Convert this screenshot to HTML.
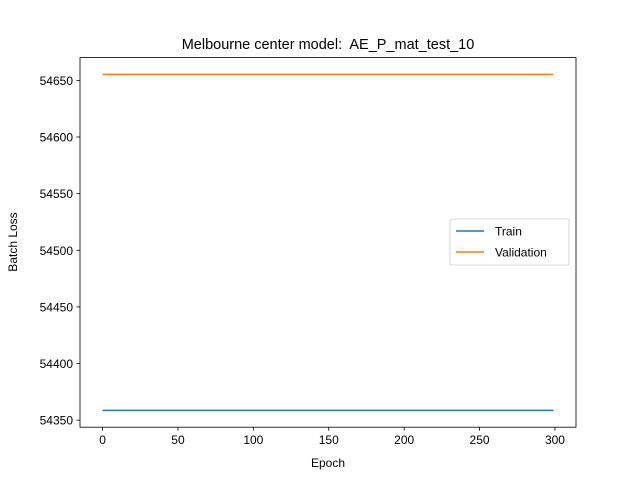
<!DOCTYPE html>
<html><head><meta charset="utf-8"><style>body{margin:0;background:#fff}svg{display:block;font-family:"Liberation Sans","DejaVu Sans",sans-serif}</style></head>
<body>
<svg id="chart" width="640" height="480">
<rect width="640" height="480" fill="#fff"/>
<text x="328" y="49" text-anchor="middle" font-size="14.5" style="white-space:pre" xml:space="preserve">Melbourne center model:  AE_P_mat_test_10</text>
<text x="328" y="467" text-anchor="middle" font-size="12">Epoch</text>
<text x="17" y="242" text-anchor="middle" font-size="12" transform="rotate(-90 17 242)">Batch Loss</text>
<g id="ticks"></g>
<g id="lines"></g>
<rect x="80" y="57.6" width="496" height="369.6" fill="none" stroke="#000" stroke-width="0.8"/>
<g>
<rect x="450" y="219" width="119" height="46" rx="2" fill="#fff" stroke="#ccc" stroke-width="0.8"/>
<line x1="456" y1="231" x2="484" y2="231" stroke="#1f77b4" stroke-width="1.5"/>
<text x="495" y="235.5" font-size="12">Train</text>
<line x1="456" y1="252" x2="484" y2="252" stroke="#ff7f0e" stroke-width="1.5"/>
<text x="495" y="256.5" font-size="12">Validation</text>
</g>
</svg>
<script>
const epochs = [0, 299];
const trainLoss = [54358.6, 54358.6];
const valLoss = [54655.3, 54655.3];
const xTicks = [0, 50, 100, 150, 200, 250, 300];
const yTicks = [54350, 54400, 54450, 54500, 54550, 54600, 54650];

const NS = "http://www.w3.org/2000/svg";
const L = 80, R = 576, T = 57.6, B = 427.2;
const xmin = epochs[0], xmax = epochs[epochs.length-1];
const xpad = (xmax - xmin) * 0.05;
const all = trainLoss.concat(valLoss);
const ymn = Math.min(...all), ymx = Math.max(...all);
const ypad = (ymx - ymn) * 0.05;
const xs = v => L + (v - (xmin - xpad)) / ((xmax + xpad) - (xmin - xpad)) * (R - L);
const ys = v => B - (v - (ymn - ypad)) / ((ymx + ypad) - (ymn - ypad)) * (B - T);

const tg = document.getElementById('ticks');
function mk(tag, attrs, parent) { const e = document.createElementNS(NS, tag); for (const k in attrs) e.setAttribute(k, attrs[k]); parent.appendChild(e); return e; }
xTicks.forEach(v => {
  const x = xs(v);
  const ln = mk('line', {x1: x, x2: x, y1: B, y2: B + 3.5, stroke: '#000', 'stroke-width': 0.8}, tg);
  
  
  const t = mk('text', {x: x, y: B + 17, 'text-anchor': 'middle', 'font-size': 12}, tg);
  t.textContent = v;
  
  
});
yTicks.forEach(v => {
  const y = ys(v);
  if (y < T - 1 || y > B + 1) return;
  const ln = mk('line', {x1: L - 3.5, x2: L, y1: y, y2: y, stroke: '#000', 'stroke-width': 0.8}, tg);
  
  
  const t = mk('text', {x: L - 7, y: y + 4.5, 'text-anchor': 'end', 'font-size': 12}, tg);
  t.textContent = v;
  
  
});
const lg = document.getElementById('lines');
function series(vals, color, name) {
  const pts = vals.map((v, i) => xs(epochs[i]) + ',' + ys(v)).join(' ');
  const p = mk('polyline', {points: pts, fill: 'none', stroke: color, 'stroke-width': 1.5}, lg);
  
  
}
series(trainLoss, '#1f77b4', 'train-line');
series(valLoss, '#ff7f0e', 'validation-line');
</script>
</body></html>
